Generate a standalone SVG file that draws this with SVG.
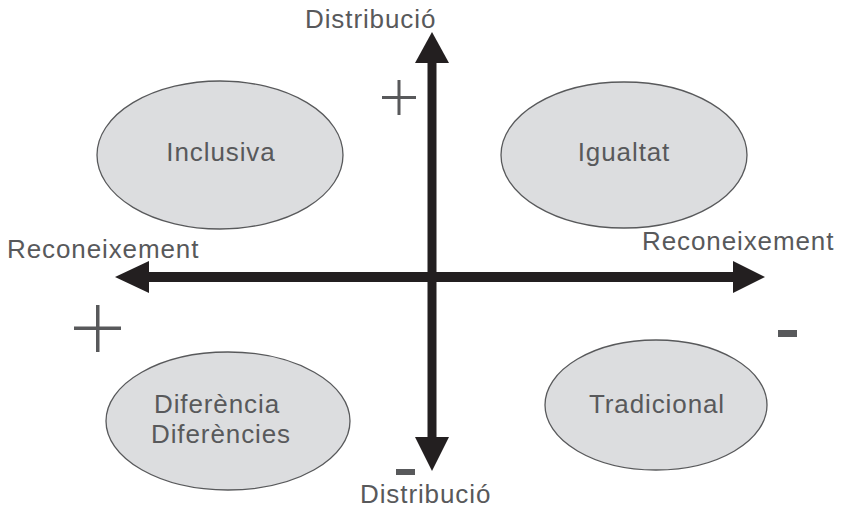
<svg xmlns="http://www.w3.org/2000/svg" width="842" height="508" viewBox="0 0 842 508">
<style>
.t{font-family:"Liberation Sans",Arial,sans-serif;font-size:26px;letter-spacing:0.9px;fill:#58595b}
.n{fill:#dcdddf;stroke:#58595b;stroke-width:1.3}
.ar{fill:#231f20}
.sg{fill:#58595b}
</style>
<rect width="842" height="508" fill="#fff"/>
<g id="connectors">
<rect class="ar" x="427.5" y="60" width="9" height="380"/>
<polygon class="ar" points="432,32 449,63 415,63"/>
<polygon class="ar" points="432,471 449,437 415,437"/>
<rect class="ar" x="145" y="272" width="590" height="10"/>
<polygon class="ar" points="115,277 149,261 149,293"/>
<polygon class="ar" points="765,277 733,261 733,293"/>
</g>
<g id="node-inclusiva">
<ellipse class="n" cx="220" cy="155" rx="123" ry="74"/>
<text class="t" x="221" y="161" text-anchor="middle">Inclusiva</text>
</g>
<g id="node-igualtat">
<ellipse class="n" cx="624" cy="155" rx="123" ry="73"/>
<text class="t" x="624" y="161" text-anchor="middle">Igualtat</text>
</g>
<g id="node-diferencia">
<ellipse class="n" cx="228" cy="421" rx="122" ry="69"/>
<text class="t" x="217" y="413" text-anchor="middle">Diferència</text>
<text class="t" x="221" y="443" text-anchor="middle">Diferències</text>
</g>
<g id="node-tradicional">
<ellipse class="n" cx="656" cy="405" rx="111" ry="65"/>
<text class="t" x="657" y="413" text-anchor="middle">Tradicional</text>
</g>
<g id="labels">
<text class="t" x="305" y="28">Distribució</text>
<text class="t" x="360" y="503">Distribució</text>
<text class="t" x="7" y="258">Reconeixement</text>
<text class="t" x="642" y="250">Reconeixement</text>
<rect class="sg" x="382" y="96" width="34" height="3"/>
<rect class="sg" x="397.5" y="80" width="3" height="35"/>
<rect class="sg" x="74" y="326.5" width="47" height="3.5"/>
<rect class="sg" x="96" y="305" width="3.5" height="47"/>
<rect class="sg" x="778" y="330" width="19" height="7"/>
<rect class="sg" x="396" y="469" width="19" height="6"/>
</g>
</svg>
